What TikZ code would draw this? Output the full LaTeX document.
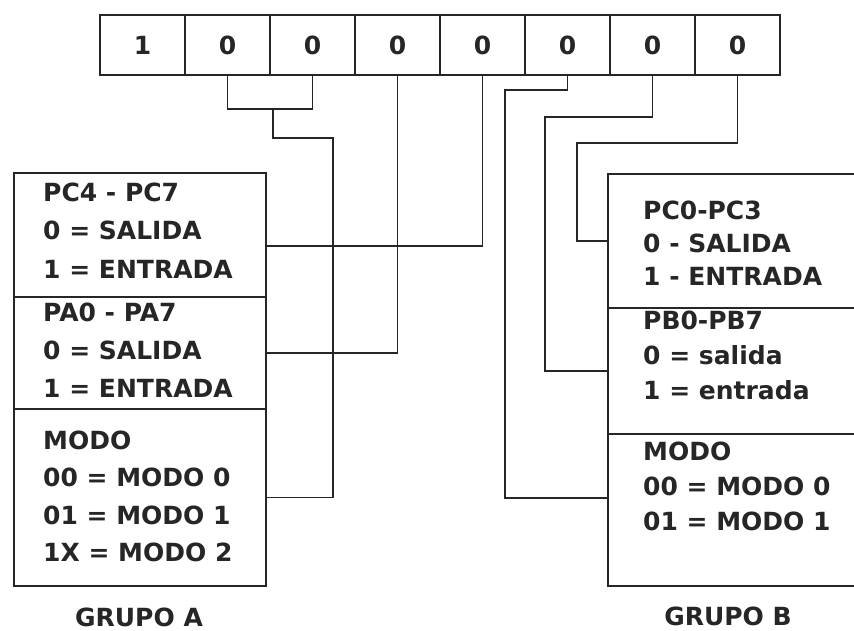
\documentclass[tikz,border=0pt]{standalone}
\usepackage{fontspec}
\setmainfont{DejaVu Sans}
\usetikzlibrary{positioning,calc}
\definecolor{ink}{HTML}{262626}

\begin{document}
\begin{tikzpicture}[x=1pt,y=-1pt,
  bitcell/.style={draw=ink,line width=1.6pt,minimum width=85pt,minimum height=60pt,inner sep=0pt,font=\bfseries\fontsize{25}{30}\selectfont,text=ink},
  secbox/.style={draw=ink,line width=1.6pt,anchor=north west,inner sep=0pt,minimum width=252pt},
  txt/.style={anchor=base west,inner sep=0pt,font=\bfseries\fontsize{25}{30}\selectfont,text=ink},
  wire/.style={draw=ink,line width=1.6pt}]
\useasboundingbox[fill=white] (0,0) rectangle (854,631);

% control word
\foreach \b [count=\i] in {1,0,0,0,0,0,0,0}
  \node[bitcell] (b\i) at ({57.5+85*\i},45) {\b};

% grupo A
\node[secbox,minimum height=124pt] (secA1) at (13,172) {};
\node[secbox,minimum height=112pt] (secA2) at (13,296) {};
\node[secbox,minimum height=177pt] (secA3) at (13,408) {};
\foreach \t [count=\k from 0] in {PC4 - PC7,0 = SALIDA,1 = ENTRADA}
  \node[txt] (tA1\k) at (43,202+38*\k) {\t};
\foreach \t [count=\k from 0] in {PA0 - PA7,0 = SALIDA,1 = ENTRADA}
  \node[txt] (tA2\k) at (43,321+38*\k) {\t};
\foreach \t [count=\k from 0] in {MODO,00 = MODO 0,01 = MODO 1,1X = MODO 2}
  \node[txt] (tA3\k) at (43,449+37.5*\k) {\t};
\node[txt,anchor=base] (grpA) at (139,626) {GRUPO A};

% grupo B
\node[secbox,minimum height=134pt] (secB1) at (607,173) {};
\node[secbox,minimum height=126pt] (secB2) at (607,307) {};
\node[secbox,minimum height=152pt] (secB3) at (607,433) {};
\foreach \t [count=\k from 0] in {PC0-PC3,0 - SALIDA,1 - ENTRADA}
  \node[txt] (tB1\k) at (643,219+33*\k) {\t};
\foreach \t [count=\k from 0] in {PB0-PB7,0 = salida,1 = entrada}
  \node[txt] (tB2\k) at (643,329+35*\k) {\t};
\foreach \t [count=\k from 0] in {MODO,00 = MODO 0,01 = MODO 1}
  \node[txt] (tB3\k) at (643,460+35*\k) {\t};
\node[txt,anchor=base] (grpB) at (728,625) {GRUPO B};

% wiring
\coordinate (brk) at (273,108);
\draw[wire] (b2.south) -- ++(0,33) -| (b3.south);
\draw[wire] (brk) |- (333,138) |- (secA3.east);
\draw[wire] (b4.south) |- (secA2.east);
\draw[wire] (b5.south) |- ([yshift=-11pt]secA1.east);
\draw[wire] (b6.south) |- (505,90) |- ([yshift=12pt]secB3.west);
\draw[wire] (b7.south) |- (545,117) |- (secB2.west);
\draw[wire] (b8.south) |- (577,143) |- (secB1.west);
\end{tikzpicture}
\end{document}
